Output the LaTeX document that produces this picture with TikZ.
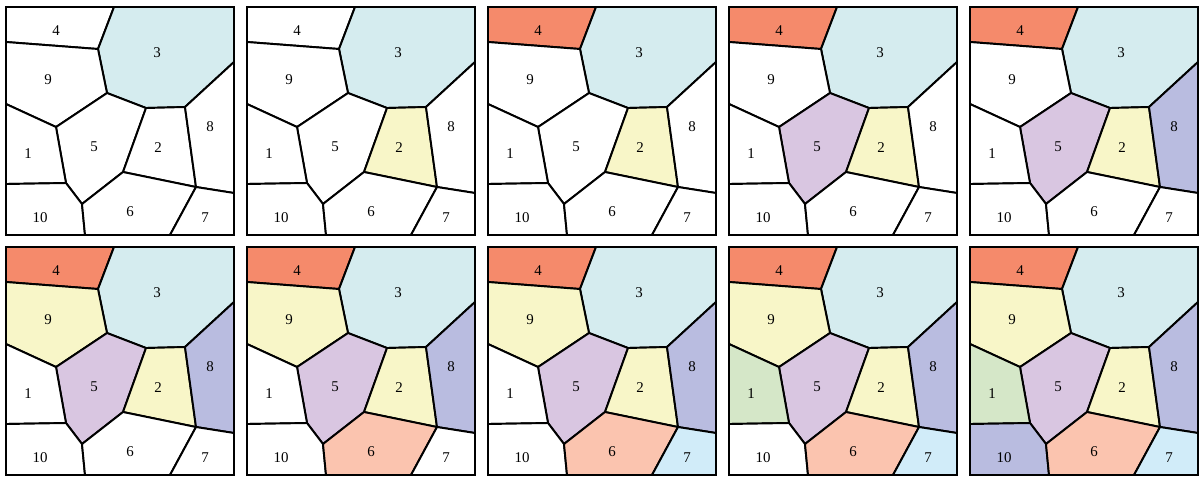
\documentclass[tikz,border=0pt]{standalone}
\usepackage{fontspec}
\setmainfont{Liberation Serif}
\definecolor{cthree}{HTML}{D5ECEF}
\definecolor{cfour}{HTML}{F58A6B}
\definecolor{cyel}{HTML}{F8F6C8}
\definecolor{cfive}{HTML}{D9C6E1}
\definecolor{cblue}{HTML}{B9BCE0}
\definecolor{csix}{HTML}{FBC4AF}
\definecolor{cseven}{HTML}{D1ECF9}
\definecolor{cone}{HTML}{D5E7C8}
\tikzset{
  cellshape/.style={draw=black, line width=1.1pt, line join=round},
  frameshape/.style={draw=black, line width=1.2pt},
  lab/.style={inner sep=0pt, font=\fontsize{8.5}{10}\selectfont}
}
\newcommand\cellcol[2]{\ifnum\np>#1\relax\def\cc{#2}\else\def\cc{white}\fi}
\newcommand\vpanel[3]{%
\begin{scope}[shift={(6+241*#1,7+240*#2)}]
  \def\np{#3}
  \coordinate (T34) at (108,0);
  \coordinate (A) at (92,42);
  \coordinate (L49) at (0,35);
  \coordinate (B) at (101,86);
  \coordinate (C) at (140,101);
  \coordinate (D) at (179,100);
  \coordinate (R38) at (228,55);
  \coordinate (E) at (50,120);
  \coordinate (L91) at (0,97);
  \coordinate (F) at (117,165);
  \coordinate (G) at (190,180);
  \coordinate (R87) at (228,186);
  \coordinate (H) at (60,176);
  \coordinate (L110) at (0,177);
  \coordinate (I) at (76,197);
  \coordinate (B106) at (79,228);
  \coordinate (B67) at (164,228);
  \coordinate (TL) at (0,0);
  \coordinate (TR) at (228,0);
  \coordinate (BL) at (0,228);
  \coordinate (BR) at (228,228);
  \cellcol{2}{cfour}\path[cellshape,fill=\cc] (TL) -- (T34) -- (A) -- (L49) -- cycle;
  \cellcol{0}{cthree}\path[cellshape,fill=\cc] (T34) -- (TR) -- (R38) -- (D) -- (C) -- (B) -- (A) -- cycle;
  \cellcol{5}{cyel}\path[cellshape,fill=\cc] (L49) -- (A) -- (B) -- (E) -- (L91) -- cycle;
  \cellcol{3}{cfive}\path[cellshape,fill=\cc] (E) -- (B) -- (C) -- (F) -- (I) -- (H) -- cycle;
  \cellcol{1}{cyel}\path[cellshape,fill=\cc] (C) -- (D) -- (G) -- (F) -- cycle;
  \cellcol{4}{cblue}\path[cellshape,fill=\cc] (D) -- (R38) -- (R87) -- (G) -- cycle;
  \cellcol{8}{cone}\path[cellshape,fill=\cc] (L91) -- (E) -- (H) -- (L110) -- cycle;
  \cellcol{9}{cblue}\path[cellshape,fill=\cc] (L110) -- (H) -- (I) -- (B106) -- (BL) -- cycle;
  \cellcol{6}{csix}\path[cellshape,fill=\cc] (I) -- (F) -- (G) -- (B67) -- (B106) -- cycle;
  \cellcol{7}{cseven}\path[cellshape,fill=\cc] (G) -- (R87) -- (BR) -- (B67) -- cycle;
  \path[frameshape] (TL) rectangle (BR);
  \node[lab] (p#1#2n4) at (50,24) {4};
  \node[lab] (p#1#2n3) at (151,46) {3};
  \node[lab] (p#1#2n9) at (42,73) {9};
  \node[lab] (p#1#2n8) at (204,120) {8};
  \node[lab] (p#1#2n1) at (22,147) {1};
  \node[lab] (p#1#2n5) at (88,140) {5};
  \node[lab] (p#1#2n2) at (152,141) {2};
  \node[lab] (p#1#2n10) at (34,211) {10};
  \node[lab] (p#1#2n6) at (124,205) {6};
  \node[lab] (p#1#2n7) at (199,211) {7};
\end{scope}}
\begin{document}
\begin{tikzpicture}[x=0.02cm,y=-0.02cm]
\useasboundingbox (0,0) rectangle (1200,478);
\vpanel{0}{0}{1}
\vpanel{1}{0}{2}
\vpanel{2}{0}{3}
\vpanel{3}{0}{4}
\vpanel{4}{0}{5}
\vpanel{0}{1}{6}
\vpanel{1}{1}{7}
\vpanel{2}{1}{8}
\vpanel{3}{1}{9}
\vpanel{4}{1}{10}
\end{tikzpicture}
\end{document}
